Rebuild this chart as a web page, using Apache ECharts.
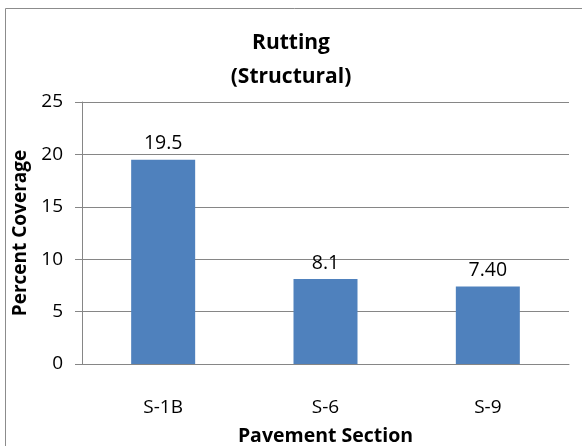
<!DOCTYPE html>
<html><head><meta charset="utf-8">
<script src="https://cdn.jsdelivr.net/npm/echarts@6/dist/echarts.min.js"></script>
<style>html,body{margin:0;padding:0;background:#fff}#c{width:582px;height:446px}</style>
</head><body><div id="c"></div>
<script>
var categories = ['S-1B', 'S-6', 'S-9'];
var values = [19.5, 8.1, 7.40];
var valueLabels = ['19.5', '8.1', '7.40'];
var yTicks = [0, 5, 10, 15, 20, 25];

var chart = echarts.init(document.getElementById('c'));
var font = '"Open Sans", "Noto Sans", sans-serif';
chart.setOption({
  backgroundColor: '#fff',
  animation: false,
  graphic: [{type: 'rect', shape: {x: 5.5, y: 8.5, width: 600, height: 460},
    style: {fill: 'none', stroke: '#8c8c8c', lineWidth: 1}, z: -1}],
  title: {
    text: 'Rutting\n(Structural)', left: 286, top: 21, textAlign: 'center',
    textStyle: {fontFamily: font, fontSize: 21, fontWeight: 'bold', color: '#000', lineHeight: 34}
  },
  grid: {left: 82, right: 13, top: 102, bottom: 82, outerBoundsMode: 'none', containLabel: false},
  xAxis: {
    type: 'category', data: categories,
    axisLine: {lineStyle: {color: '#868686'}},
    axisTick: {show: false},
    axisLabel: {fontFamily: font, fontSize: 19, color: '#000', margin: 34},
    name: 'Pavement Section', nameLocation: 'middle', nameGap: 62,
    nameTextStyle: {fontFamily: font, fontSize: 19.5, fontWeight: 'bold', color: '#000'}
  },
  yAxis: {
    type: 'value', min: 0, max: 25, interval: 5,
    axisLine: {show: true, lineStyle: {color: '#868686'}},
    axisTick: {show: true, length: 7, lineStyle: {color: '#868686'}},
    splitLine: {lineStyle: {color: '#868686'}},
    axisLabel: {fontFamily: font, fontSize: 19, color: '#000', margin: 19,
      formatter: function (v) { return yTicks.indexOf(v) >= 0 ? String(v) : ''; }},
    name: 'Percent Coverage', nameLocation: 'middle', nameGap: 49, nameRotate: 90,
    nameTextStyle: {fontFamily: font, fontSize: 19, fontWeight: 'bold', color: '#000'}
  },
  series: [{
    type: 'bar', data: values, barWidth: 64,
    itemStyle: {color: '#4F81BD'},
    label: {show: true, position: 'top', distance: 6, fontFamily: font, fontSize: 19.5, color: '#000',
      formatter: function (p) { return valueLabels[p.dataIndex]; }}
  }]
});
</script></body></html>
